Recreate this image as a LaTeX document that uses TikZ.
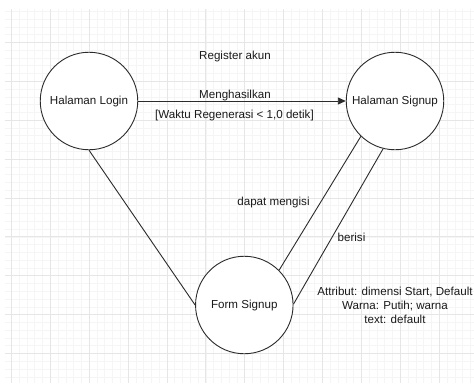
\documentclass[tikz,border=0pt]{standalone}
\usepackage{fontspec}
\setmainfont{Liberation Sans}
\usetikzlibrary{arrows.meta}
\definecolor{gridminor}{HTML}{F5F5F5}
\definecolor{gridmajor}{HTML}{E6E6E6}
\definecolor{stroke}{HTML}{2B2B2B}
\definecolor{ink}{HTML}{1A1A1A}
\tikzset{
  state/.style={circle, draw=stroke, line width=0.9pt, fill=white,
    minimum size=97.5pt, inner sep=0pt, text=ink},
  lbl/.style={inner sep=0pt, text=ink},
  link/.style={draw=stroke, line width=0.9pt},
}
\begin{document}
\begin{tikzpicture}[x=1pt, y=-1pt,
  every node/.append style={font=\fontsize{11.6}{14.3}\selectfont}]
\useasboundingbox (0,0) rectangle (474,383);
\fill[white] (0,0) rectangle (474,383);
% background grid: minor lines every 7.78, major every 38.9
\foreach \i in {0,...,60} {
  \pgfmathsetmacro{\gx}{11.3+7.78*\i}
  \ifdim\gx pt<474pt
    \draw[gridminor, line width=0.5pt] (\gx,9) -- (\gx,383);
  \fi
}
\foreach \i in {0,...,48} {
  \pgfmathsetmacro{\gy}{11.2+7.78*\i}
  \ifdim\gy pt<383pt
    \draw[gridminor, line width=0.5pt] (5,\gy) -- (474,\gy);
  \fi
}
\foreach \i in {0,...,11} {
  \pgfmathsetmacro{\gx}{11.3+38.9*\i}
  \draw[gridmajor, line width=0.7pt] (\gx,9) -- (\gx,383);
}
\foreach \i in {0,...,8} {
  \pgfmathsetmacro{\gy}{42.3+38.9*\i}
  \draw[gridmajor, line width=0.7pt] (5,\gy) -- (474,\gy);
}

% states
\node[state] (login)  at (89,101)    {Halaman Login};
\node[state] (signup) at (395,101)   {Halaman Signup};
\node[state] (form)   at (244.3,305) {Form Signup};

% connectors
\draw[link, -{Stealth[length=8pt,width=7pt,inset=0pt]}] (login) -- (signup);
\draw[link] (login.south) -- (form.west);
\draw[link] (signup.226) -- (form.45);
\draw[link] (signup.256) -- (form.1.5);

% labels
\node[lbl] (reg)   at (235,56.5)  {Register akun};
\node[lbl] (hasil) at (235,95.5)  {Menghasilkan};
\node[lbl] (waktu) at (234.5,115.7) {[Waktu Regenerasi < 1,0 detik]};
\node[lbl] (isi)   at (273.5,202.5) {dapat mengisi};
\node[lbl] (berisi) at (351.5,237) {berisi};
\node[lbl, align=center] (attr) at (395,305.3)
  {Attribut: dimensi Start, Default\\Warna: Putih; warna\\text: default};
\end{tikzpicture}
\end{document}
